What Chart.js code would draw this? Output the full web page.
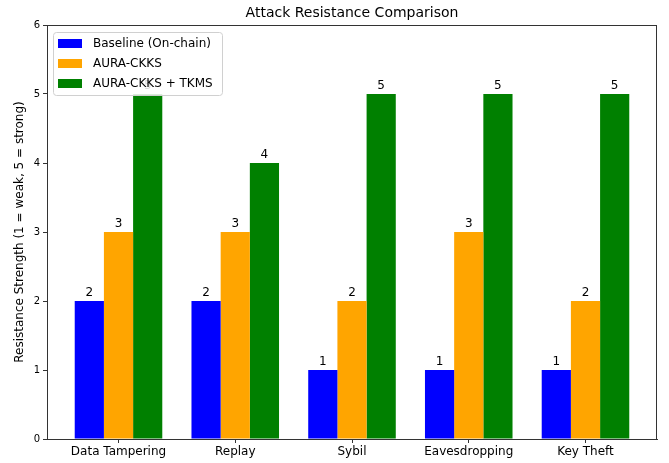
<!DOCTYPE html>
<html>
<head>
<meta charset="utf-8">
<script src="https://cdn.jsdelivr.net/npm/chart.js@4.4.1/dist/chart.umd.min.js"></script>
<style>
  html, body { margin: 0; padding: 0; background: #fff; }
  #wrap { width: 669px; height: 463px; position: relative; }
</style>
</head>
<body>
<div id="wrap"><canvas id="c" width="669" height="463"></canvas></div>
<script>
const categories = ['Data Tampering', 'Replay', 'Sybil', 'Eavesdropping', 'Key Theft'];
const baseline = [2, 2, 1, 1, 1];
const auraCkks = [3, 3, 2, 3, 2];
const auraTkms = [5, 4, 5, 5, 5];
const seriesNames = ['Baseline (On-chain)', 'AURA-CKKS', 'AURA-CKKS + TKMS'];
const seriesColors = ['#0000ff', '#ffa500', '#008000'];
const yTicks = [0, 1, 2, 3, 4, 5, 6];

const FONT = 'DejaVu Sans';

const toPoints = arr => arr.map((v, i) => ({ x: i, y: v }));

// Value labels above each bar, frame on all four sides, and an in-plot legend
const decorations = {
  id: 'decorations',
  afterDatasetsDraw(chart) {
    const ctx = chart.ctx;
    ctx.save();
    ctx.fillStyle = '#000';
    ctx.font = '12px "' + FONT + '"';
    ctx.textAlign = 'center';
    ctx.textBaseline = 'bottom';
    chart.data.datasets.forEach((ds, di) => {
      const meta = chart.getDatasetMeta(di);
      meta.data.forEach((bar, i) => {
        ctx.fillText(String(ds.data[i].y), bar.x, bar.y - 2);
      });
    });
    ctx.restore();
  },
  afterDraw(chart) {
    const ctx = chart.ctx;
    const a = chart.chartArea;
    ctx.save();
    ctx.strokeStyle = '#333';
    ctx.lineWidth = 1;
    ctx.strokeRect(Math.round(a.left) + 0.5, Math.round(a.top) + 0.5,
                   Math.round(a.right - a.left) - 1, Math.round(a.bottom - a.top));

    // legend
    const lx = a.left + 6, ly = a.top + 7, lw = 169, lh = 63;
    ctx.fillStyle = 'rgba(255,255,255,0.85)';
    ctx.strokeStyle = '#d0d0d0';
    ctx.lineWidth = 1;
    ctx.beginPath();
    ctx.roundRect(lx + 0.5, ly + 0.5, lw, lh, 3);
    ctx.fill();
    ctx.stroke();
    ctx.font = '12px "' + FONT + '"';
    ctx.textAlign = 'left';
    ctx.textBaseline = 'middle';
    seriesNames.forEach((name, i) => {
      const cy = ly + 11 + i * 20;
      ctx.fillStyle = seriesColors[i];
      ctx.fillRect(lx + 5, cy - 4, 24, 9);
      ctx.fillStyle = '#000';
      ctx.fillText(name, lx + 40, cy + 1);
    });

    // title
    ctx.font = '14px "' + FONT + '"';
    ctx.textAlign = 'center';
    ctx.textBaseline = 'middle';
    ctx.fillStyle = '#000';
    ctx.fillText('Attack Resistance Comparison', (a.left + a.right) / 2, 13);
    ctx.restore();
  }
};

new Chart(document.getElementById('c'), {
  type: 'bar',
  data: {
    datasets: [baseline, auraCkks, auraTkms].map((arr, i) => ({
      label: seriesNames[i],
      data: toPoints(arr),
      backgroundColor: seriesColors[i],
      borderWidth: 0,
      categoryPercentage: 0.75,
      barPercentage: 1.0
    }))
  },
  options: {
    responsive: false,
    animation: false,
    devicePixelRatio: 1,
    layout: { padding: { top: 25, right: 12, left: 0, bottom: 0 } },
    plugins: { legend: { display: false }, title: { display: false }, tooltip: { enabled: false } },
    scales: {
      x: {
        type: 'linear',
        min: -0.6125,
        max: 4.6125,
        offset: false,
        afterBuildTicks(scale) { scale.ticks = categories.map((c, i) => ({ value: i })); },
        afterFit(scale) { scale.height = 24; },
        ticks: {
          autoSkip: false,
          maxRotation: 0,
          padding: 2,
          color: '#000',
          font: { family: FONT, size: 12 },
          callback: v => categories[v]
        },
        grid: { display: true, offset: false, drawOnChartArea: false, drawTicks: true, tickLength: 4, color: '#333' },
        border: { display: true, color: '#333' }
      },
      y: {
        min: 0,
        max: 6,
        afterBuildTicks(scale) { scale.ticks = yTicks.map(v => ({ value: v })); },
        afterFit(scale) { scale.width = 47; },
        ticks: {
          padding: 3,
          color: '#000',
          font: { family: FONT, size: 10 },
          callback: v => String(v)
        },
        title: {
          display: true,
          text: 'Resistance Strength (1 = weak, 5 = strong)',
          color: '#000',
          font: { family: FONT, size: 12 },
          padding: { top: 13, bottom: 0 }
        },
        grid: { display: true, offset: false, drawOnChartArea: false, drawTicks: true, tickLength: 4, color: '#333' },
        border: { display: true, color: '#333' }
      }
    }
  },
  plugins: [decorations]
});
</script>
</body>
</html>
